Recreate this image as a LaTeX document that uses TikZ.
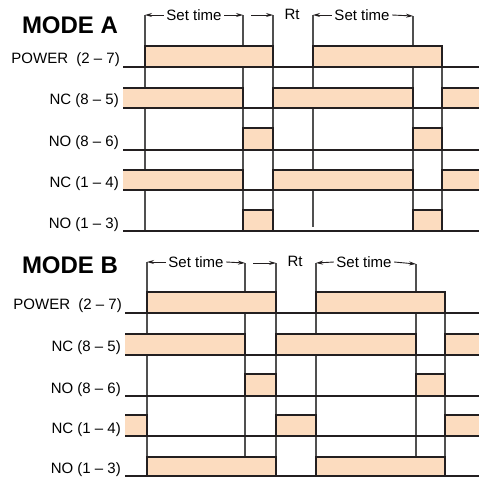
\documentclass[tikz,border=0pt]{standalone}
\usepackage{fontspec}
\setmainfont{Liberation Sans}
\usetikzlibrary{arrows.meta}
\definecolor{peach}{HTML}{FCDCBF}
\definecolor{vgray}{HTML}{505050}
\definecolor{ink}{HTML}{231F20}
\newcommand{\pbox}[4]{\fill[peach] (#1,#3) rectangle (#2,#4);}
\newcommand{\pedge}[4]{\draw[edge] (#1,#3) -- (#1,#4) -- (#2,#4) -- (#2,#3);}
\newcommand{\pedgeL}[4]{\draw[edge] (#1,#4) -- (#2,#4) -- (#2,#3);}
\newcommand{\pedgeR}[4]{\draw[edge] (#1,#3) -- (#1,#4) -- (#2,#4);}
\begin{document}
\begin{tikzpicture}[x=1pt,y=-1pt,
  edge/.style={draw=ink,line width=1.9pt,line join=miter},
  base/.style={draw=ink,line width=1.4pt},
  vl/.style={draw=vgray,line width=1.1pt},
  arr/.style={draw=ink,line width=0.9pt,-{Stealth[length=7pt,width=4pt]}},
  lab/.style={inner sep=0pt,anchor=east,font=\fontsize{15}{17}\selectfont},
  st/.style={inner sep=2.5pt,font=\fontsize{15}{17}\selectfont},
  mode/.style={inner sep=0pt,font=\fontsize{24}{26}\selectfont\bfseries}]
\useasboundingbox (0,0) rectangle (479,477);

% ================= MODE A =================
\node[mode] (modeA) at (70,25) {MODE A};
\coordinate (a0) at (145,15);
\coordinate (a1) at (243,15);
\coordinate (a2) at (273,15);
\coordinate (a3) at (313,15);
\coordinate (a4) at (413,16);
\coordinate (a5) at (442,46);
\draw[vl] (a0) -- (145,231);
\draw[vl] (a1) -- (243,231);
\draw[vl] (a2) -- (273,231);
\draw[vl] (a3) -- (313,227);
\draw[vl] (a4) -- (413,231);
\draw[vl] (a5) -- (442,231);

\node[st] (sa1) at (194,15) {Set time};
\draw[arr] (sa1.west) -- (a0);
\draw[arr] (sa1.east) -- (a1);
\coordinate (ra) at (251,15);
\draw[arr] (ra) -- (a2);
\node[st] (rta) at (292,14) {Rt};
\node[st] (sa2) at (362,15) {Set time};
\draw[arr] (sa2.west) -- (a3);
\draw[arr] (sa2.east) -- (a4);

% fills
\pbox{145}{273}{67}{46} \pbox{313}{442}{67}{46}
\pbox{123}{243}{108}{88} \pbox{273}{413}{108}{88} \pbox{442}{479}{108}{88}
\pbox{243}{273}{150}{128} \pbox{413}{442}{150}{128}
\pbox{123}{243}{190}{170} \pbox{273}{413}{190}{170} \pbox{442}{479}{190}{170}
\pbox{243}{273}{231}{210} \pbox{413}{442}{231}{210}
% baselines
\foreach \y in {67,108,150,190,231} \draw[base] (123,\y) -- (479,\y);
% outlines
\pedge{145}{273}{67}{46} \pedge{313}{442}{67}{46}
\pedgeL{123}{243}{108}{88} \pedge{273}{413}{108}{88} \pedgeR{442}{479}{108}{88}
\pedge{243}{273}{150}{128} \pedge{413}{442}{150}{128}
\pedgeL{123}{243}{190}{170} \pedge{273}{413}{190}{170} \pedgeR{442}{479}{190}{170}
\pedge{243}{273}{231}{210} \pedge{413}{442}{231}{210}

\node[lab] (pwA) at (120,60) {POWER\ \ (2 – 7)};
\node[lab] (nc85A) at (119,101) {NC (8 – 5)};
\node[lab] (no86A) at (119,143) {NO (8 – 6)};
\node[lab] (nc14A) at (119,184) {NC (1 – 4)};
\node[lab] (no13A) at (119,225) {NO (1 – 3)};

% ================= MODE B =================
\node[mode] (modeB) at (70,265) {MODE B};
\coordinate (b0) at (147,262);
\coordinate (b1) at (245,263);
\coordinate (b2) at (276,263);
\coordinate (b3) at (316,263);
\coordinate (b4) at (416,264);
\coordinate (b5) at (445,292);
\draw[vl] (b0) -- (147,476);
\draw[vl] (b1) -- (245,476);
\draw[vl] (b2) -- (276,476);
\draw[vl] (b3) -- (316,476);
\draw[vl] (b4) -- (416,470);
\draw[vl] (b5) -- (445,476);

\node[st] (sb1) at (196,262) {Set time};
\draw[arr] (sb1.west) -- (b0);
\draw[arr] (sb1.east) -- (b1);
\coordinate (rb) at (253,263);
\draw[arr] (rb) -- (b2);
\node[st] (rtb) at (295,261) {Rt};
\node[st] (sb2) at (364,262) {Set time};
\draw[arr] (sb2.west) -- (b3);
\draw[arr] (sb2.east) -- (b4);

% fills
\pbox{147}{276}{313}{292} \pbox{316}{445}{313}{292}
\pbox{125}{245}{355}{334} \pbox{276}{416}{355}{334} \pbox{445}{479}{355}{334}
\pbox{245}{276}{396}{374} \pbox{416}{445}{396}{374}
\pbox{125}{147}{436}{415} \pbox{276}{316}{436}{415} \pbox{445}{479}{436}{415}
\pbox{147}{276}{476}{457} \pbox{316}{445}{476}{457}
% baselines
\foreach \y in {313,355,396,436,476} \draw[base] (125,\y) -- (479,\y);
% outlines
\pedge{147}{276}{313}{292} \pedge{316}{445}{313}{292}
\pedgeL{125}{245}{355}{334} \pedge{276}{416}{355}{334} \pedgeR{445}{479}{355}{334}
\pedge{245}{276}{396}{374} \pedge{416}{445}{396}{374}
\pedgeL{125}{147}{436}{415} \pedge{276}{316}{436}{415} \pedgeR{445}{479}{436}{415}
\pedge{147}{276}{476}{457} \pedge{316}{445}{476}{457}

\node[lab] (pwB) at (122,306) {POWER\ \ (2 – 7)};
\node[lab] (nc85B) at (121,348) {NC (8 – 5)};
\node[lab] (no86B) at (121,390) {NO (8 – 6)};
\node[lab] (nc14B) at (121,430) {NC (1 – 4)};
\node[lab] (no13B) at (121,470) {NO (1 – 3)};
\end{tikzpicture}
\end{document}
